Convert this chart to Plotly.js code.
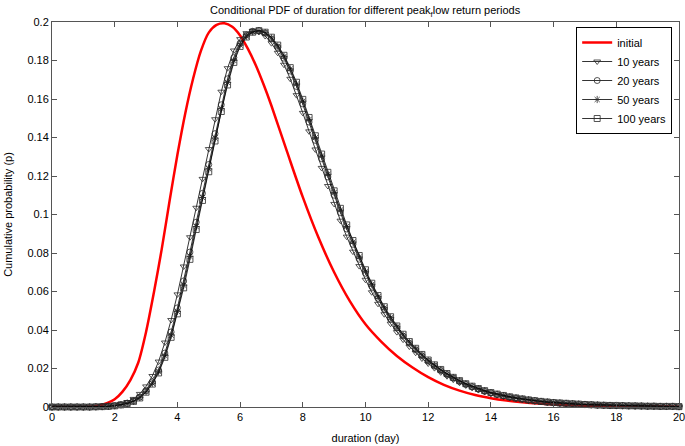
<!DOCTYPE html>
<html>
<head>
<meta charset="utf-8">
<script src="https://cdn.plot.ly/plotly-3.0.1.min.js"></script>
<style>html,body{margin:0;padding:0;background:#fff;}#chart{width:685px;height:446px;}</style>
</head>
<body>
<div id="chart"></div>
<script>
// Red "initial" curve (smooth line)
var xInitial = [0,0.5,1,1.5,1.75,2,2.25,2.5,2.75,3,3.25,3.5,3.75,4,4.25,4.5,4.75,5,5.25,5.5,5.75,6,6.25,6.5,6.75,7,7.5,8,8.5,9,9.5,10,10.5,11,11.5,12,12.5,13,13.5,14,14.5,15,15.5,16,16.5,17,17.5,18,18.5,19,19.5,20];
var yInitial = [0,0,0,0.0008,0.0020,0.0040,0.0080,0.0140,0.0230,0.0390,0.0595,0.0820,0.1070,0.1310,0.1525,0.1705,0.1850,0.1945,0.1985,0.1993,0.1975,0.1930,0.1860,0.1775,0.1675,0.1565,0.1325,0.1090,0.0880,0.0700,0.0550,0.0430,0.0340,0.0265,0.0205,0.0155,0.0115,0.0085,0.0062,0.0046,0.0034,0.0025,0.0018,0.0013,0.0010,0.0007,0.0005,0.0004,0.0003,0.0002,0.0002,0.0001];

// Marked series share this x grid
var xGrid = [0,0.2,0.4,0.6,0.8,1,1.2,1.4,1.6,1.8,2,2.2,2.4,2.6,2.8,3,3.2,3.4,3.6,3.8,4,4.2,4.4,4.6,4.8,5,5.2,5.4,5.6,5.8,6,6.2,6.4,6.6,6.8,7,7.2,7.4,7.6,7.8,8,8.2,8.4,8.6,8.8,9,9.2,9.4,9.6,9.8,10,10.2,10.4,10.6,10.8,11,11.2,11.4,11.6,11.8,12,12.2,12.4,12.6,12.8,13,13.2,13.4,13.6,13.8,14,14.2,14.4,14.6,14.8,15,15.2,15.4,15.6,15.8,16,16.2,16.4,16.6,16.8,17,17.2,17.4,17.6,17.8,18,18.2,18.4,18.6,18.8,19,19.2,19.4,19.6,19.8,20];

var y10 = [0,0,0,0,0,0,0.0001,0.0002,0.0003,0.0005,0.0010,0.0016,0.0026,0.0042,0.0068,0.0107,0.0161,0.0236,0.0335,0.0452,0.0585,0.0730,0.0882,0.1035,0.1185,0.1340,0.1495,0.1638,0.1760,0.1852,0.1911,0.1942,0.1954,0.1948,0.1927,0.1890,0.1840,0.1778,0.1705,0.1620,0.1528,0.1432,0.1338,0.1242,0.1148,0.1055,
  0.0968,0.0885,0.0807,0.0732,0.0661,0.0596,0.0536,0.0482,0.0433,0.0389,0.0350,0.0314,0.0282,0.0252,0.0226,0.0202,0.0180,0.0160,0.0142,0.0126,0.0112,0.0099,0.0088,0.0078,0.0069,0.0062,0.0055,0.0049,0.0044,0.0039,0.0034,0.0030,0.0027,0.0024,0.0021,
  0.0019,0.0017,0.0015,0.0014,0.0012,0.0011,0.0010,0.0009,0.0008,0.0007,0.0007,0.0006,0.0005,0.0005,0.0004,0.0004,0.0003,0.0003,0.0003,0.0002];

var y20 = [0,0,0,0,0,0,0,0.0001,0.0002,0.0004,0.0007,0.0012,0.0020,0.0032,0.0052,0.0085,0.0130,0.0192,0.0280,0.0390,0.0515,0.0655,0.0805,0.0960,0.1110,0.1260,0.1420,0.1570,0.1705,0.1815,0.1890,0.1932,0.1952,0.1955,0.1942,0.1912,0.1868,0.1812,0.1745,0.1665,0.1575,0.1480,0.1385,0.1290,0.1195,0.1100,
  0.1010,0.0925,0.0845,0.0768,0.0695,0.0627,0.0564,0.0507,0.0456,0.0410,0.0368,0.0331,0.0297,0.0266,0.0238,0.0213,0.0190,0.0169,0.0150,0.0133,0.0118,0.0105,0.0093,0.0082,0.0073,0.0065,0.0058,0.0051,0.0046,0.0041,0.0036,0.0032,0.0028,0.0025,0.0022,
  0.0020,0.0018,0.0016,0.0014,0.0013,0.0011,0.0010,0.0009,0.0008,0.0007,0.0007,0.0006,0.0005,0.0005,0.0004,0.0004,0.0003,0.0003,0.0003,0.0002];

var y50 = [0,0,0,0,0,0,0,0.0001,0.0002,0.0004,0.0007,0.0011,0.0019,0.0030,0.0049,0.0080,0.0123,0.0183,0.0267,0.0373,0.0496,0.0633,0.0783,0.0937,0.1088,0.1237,0.1397,0.1549,0.1686,0.1800,0.1880,0.1926,0.1949,0.1955,0.1945,0.1917,0.1875,0.1821,0.1756,0.1678,0.1589,0.1494,0.1399,0.1304,0.1209,0.1114,
  0.1023,0.0938,0.0857,0.0779,0.0705,0.0637,0.0573,0.0515,0.0464,0.0417,0.0374,0.0337,0.0302,0.0271,0.0242,0.0217,0.0193,0.0172,0.0153,0.0136,0.0120,0.0107,0.0095,0.0084,0.0074,0.0066,0.0059,0.0052,0.0047,0.0042,0.0037,0.0033,0.0029,0.0026,0.0023,
  0.0021,0.0019,0.0017,0.0015,0.0013,0.0012,0.0010,0.0009,0.0008,0.0008,0.0007,0.0006,0.0006,0.0005,0.0004,0.0004,0.0003,0.0003,0.0003,0.0002];

var y100 = [0,0,0,0,0,0,0,0.0001,0.0002,0.0003,0.0006,0.0011,0.0018,0.0029,0.0047,0.0077,0.0119,0.0177,0.0258,0.0362,0.0484,0.0619,0.0767,0.0922,0.1073,0.1222,0.1382,0.1535,0.1673,0.1790,0.1873,0.1922,0.1947,0.1955,0.1947,0.1921,0.1880,0.1827,0.1763,0.1687,0.1598,0.1504,0.1409,0.1314,0.1219,0.1123,
  0.1032,0.0946,0.0865,0.0787,0.0713,0.0643,0.0579,0.0521,0.0469,0.0421,0.0378,0.0340,0.0305,0.0273,0.0244,0.0219,0.0195,0.0174,0.0154,0.0137,0.0121,0.0108,0.0096,0.0085,0.0075,0.0067,0.0060,0.0053,0.0047,0.0042,0.0037,0.0033,0.0029,0.0026,0.0023,
  0.0021,0.0019,0.0017,0.0015,0.0013,0.0012,0.0010,0.0009,0.0008,0.0008,0.0007,0.0006,0.0006,0.0005,0.0004,0.0004,0.0003,0.0003,0.0003,0.0002];

var seriesNames = ['initial','10 years','20 years','50 years','100 years'];
var xTickVals = [0,2,4,6,8,10,12,14,16,18,20];
var yTickVals = [0,0.02,0.04,0.06,0.08,0.1,0.12,0.14,0.16,0.18,0.2];
var yTickText = ['0','0.02','0.04','0.06','0.08','0.1','0.12','0.14','0.16','0.18','0.2'];

var FONT = 'Liberation Sans, Arial, sans-serif';

function marked(name, y, symbol) {
  return {
    x: xGrid, y: y, name: name, type: 'scatter', mode: 'lines+markers',
    cliponaxis: false,
    line: {color: '#000', width: 0.8},
    marker: {symbol: symbol, size: 6, color: '#2a2a2a', line: {color: '#2a2a2a', width: 0.8}}
  };
}

var traces = [
  {x: xInitial, y: yInitial, name: seriesNames[0], type: 'scatter', mode: 'lines',
   line: {color: '#ff0000', width: 2.5, shape: 'spline', smoothing: 0.8}, cliponaxis: false},
  marked(seriesNames[1], y10, 'triangle-down-open'),
  marked(seriesNames[2], y20, 'circle-open'),
  marked(seriesNames[3], y50, 'asterisk-open'),
  marked(seriesNames[4], y100, 'square-open')
];

var axisCommon = {
  showgrid: false, zeroline: false, showline: true, linecolor: '#555', linewidth: 1,
  mirror: 'ticks', ticks: 'inside', ticklen: 5, tickcolor: '#555', tickwidth: 1,
  ticklabeloverflow: 'allow',
  tickfont: {family: FONT, size: 11, color: '#000'}
};

var layout = {
  width: 685, height: 446,
  margin: {l: 52, r: 6, t: 22, b: 39},
  paper_bgcolor: '#fff', plot_bgcolor: '#fff',
  font: {family: FONT, size: 11, color: '#000'},
  title: {text: 'Conditional PDF of duration for different peak<sub>f</sub>low return periods',
          font: {family: FONT, size: 11, color: '#000'}, x: 0.533, xanchor: 'center', y: 0.985, yanchor: 'top'},
  xaxis: Object.assign({}, axisCommon, {range: [0, 20], tickvals: xTickVals,
          title: {text: 'duration (day)', font: {family: FONT, size: 11}, standoff: 12}}),
  yaxis: Object.assign({}, axisCommon, {range: [0, 0.2], tickvals: yTickVals, ticktext: yTickText,
          title: {text: 'Cumulative probability (p)', font: {family: FONT, size: 11}, standoff: 12}}),
  showlegend: true,
  legend: {x: 0.836, y: 0.987, xanchor: 'left', yanchor: 'top', bgcolor: '#fff',
           bordercolor: '#000', borderwidth: 1, font: {family: FONT, size: 11, color: '#000'},
           itemwidth: 30, tracegroupgap: 0}
};

Plotly.newPlot('chart', traces, layout, {displayModeBar: false, staticPlot: true});
</script>
</body>
</html>
